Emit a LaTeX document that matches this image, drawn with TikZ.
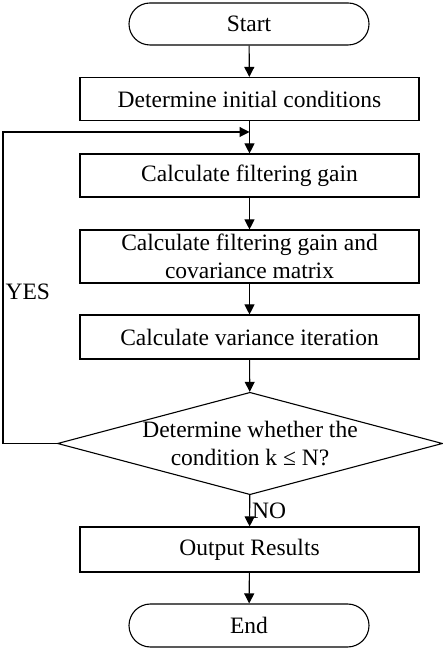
\documentclass[tikz,border=0pt]{standalone}
\usepackage{fontspec}
\setmainfont{Liberation Serif}
\usetikzlibrary{arrows.meta,shapes.geometric,shapes.misc}
\tikzset{
	term/.style={draw, rounded rectangle, minimum width=240pt, minimum height=42pt, inner sep=0pt},
	proc/.style={draw, rectangle, minimum width=339pt, minimum height=43pt, inner sep=0pt, align=center},
	cond/.style={draw, diamond, minimum width=380pt, minimum height=101pt, inner sep=0pt, aspect=3.76, align=center},
	arr/.style={-{Triangle[length=10pt,width=10pt]}}
}

\begin{document}
\begin{tikzpicture}[x=1pt, y=1pt, line width=1.1pt, font=\fontsize{23.5}{28.5}\selectfont]

			\useasboundingbox (0,0) rectangle (443,650);

			% Flow of the boxes
			\node[term] (start) at (249,626) {Start};
			\node[proc] (init) at (249.5,551) {Determine initial conditions};
			\node[proc] (gain) at (249.5,474.5) {Calculate filtering gain};
			\node[proc, minimum height=53pt] (cov) at (249.5,393.5) {Calculate filtering gain and\\covariance matrix};
			\node[proc, minimum height=44pt] (var) at (249.5,313) {Calculate variance iteration};
			\node[cond] (chk) at (250,206.5) {Determine whether the\\condition k ≤ N?};
			\node[proc, minimum height=45pt] (out) at (249.5,100.5) {Output Results};
			\node[term, minimum height=43pt] (end) at (249,24.5) {End};

			% Connectors
			\draw[arr] (start) -- (init);
			\draw[arr] (init) -- (gain);
			\draw[arr] (gain) -- (cov);
			\draw[arr] (cov) -- (var);
			\draw[arr] (var) -- (chk);
			\draw[arr] (chk) -- node[right, inner sep=2pt] {NO} (out);
			\draw[arr] (out) -- (end);

			% Loop back
			\coordinate (lpb) at (3,206.5);
			\coordinate (lpt) at (3,518);
			\coordinate (join) at (249.5,518);
			\draw[arr] (chk.west) -- (lpb) -- (lpt) -- (join);
			\node[right, inner sep=2pt] (yes) at (3,358) {YES};

		\end{tikzpicture}
\end{document}
